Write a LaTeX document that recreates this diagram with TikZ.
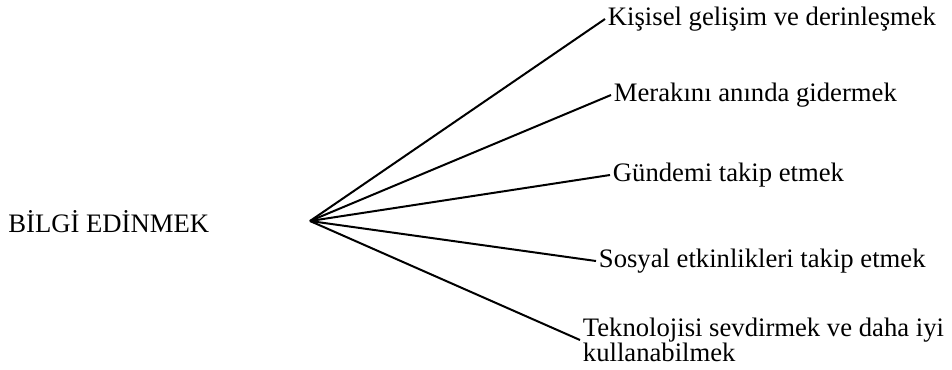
\documentclass[tikz,border=0pt]{standalone}
\usepackage{fontspec}
\setmainfont{Liberation Serif}
\usetikzlibrary{positioning}

\begin{document}
\begin{tikzpicture}[x=0.75pt,y=-0.75pt,
  every node/.style={font=\fontsize{20}{19}\selectfont, inner sep=2pt},
  leaf/.style={anchor=west, align=left},
  spoke/.style={line width=1.5pt}]
  \useasboundingbox (0,0) rectangle (952,369);
  \coordinate (hub) at (310,221);
  \node[anchor=east] (root) at (212,222) {BİLGİ EDİNMEK};
  \node[leaf] (kisisel) at (605,19) {Kişisel gelişim ve derinleşmek};
  \node[leaf] (merak) at (611,95) {Merakını anında gidermek};
  \node[leaf] (gundem) at (610,175) {Gündemi takip etmek};
  \node[leaf] (sosyal) at (596,261) {Sosyal etkinlikleri takip etmek};
  \node[leaf] (tekno) at (580,340) {Teknolojisi sevdirmek ve daha iyi\\kullanabilmek};
  \draw[spoke] (hub) -- (kisisel.west);
  \draw[spoke] (hub) -- (merak.west);
  \draw[spoke] (hub) -- (gundem.west);
  \draw[spoke] (hub) -- (sosyal.west);
  \draw[spoke] (hub) -- (tekno.west);
\end{tikzpicture}
\end{document}
